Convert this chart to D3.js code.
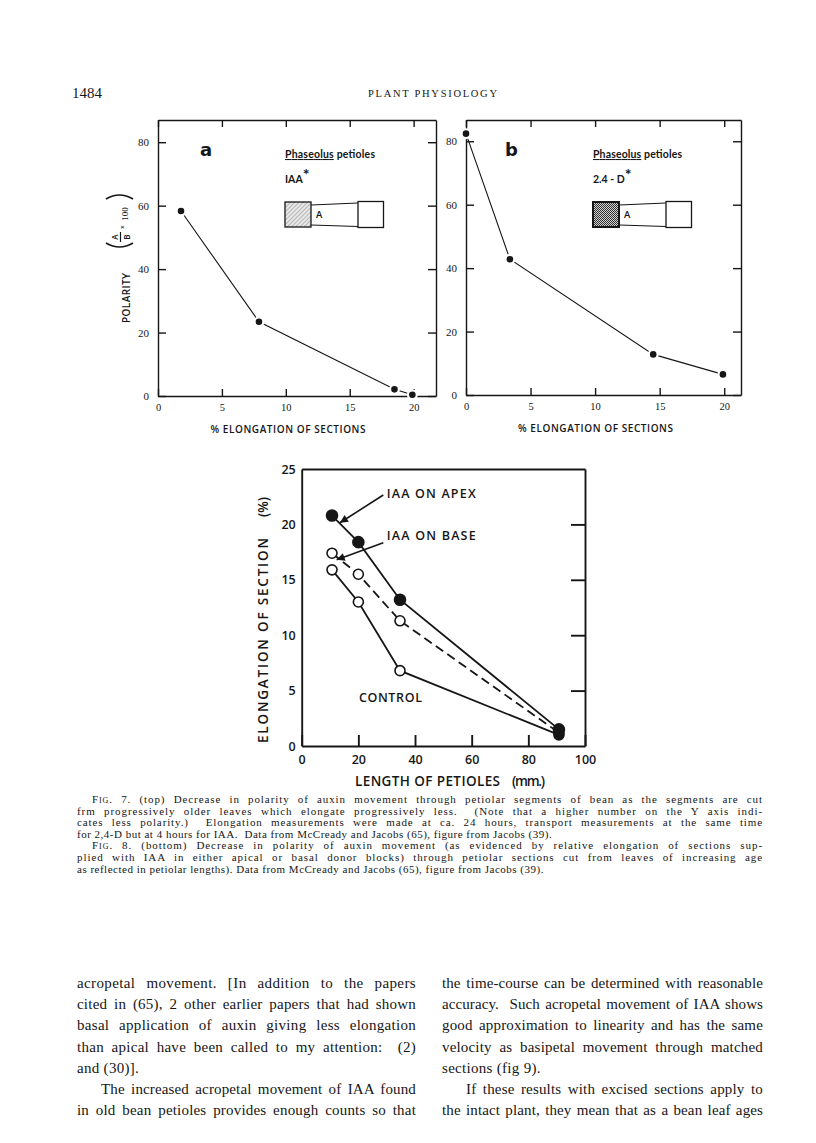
<!DOCTYPE html>
<html>
<head>
<meta charset="utf-8">
<script src="https://cdn.jsdelivr.net/npm/d3@7"></script>
<style>
  body { margin: 0; background: #fff; }
  svg { display: block; }
</style>
</head>
<body>
<div id="page"></div>
<script>
// ---- values ----
const elongTicks = [0, 5, 10, 15, 20];
const polarityTicks = [0, 20, 40, 60, 80];

// Fig 7a  (IAA)
const iaaElongation = [1.8, 7.9, 18.5, 19.9];
const iaaPolarity = [58.3, 23.4, 2.1, 0.4];

// Fig 7b  (2,4-D)
const dElongation = [0, 3.4, 14.5, 19.9];
const dPolarity = [82.4, 42.8, 12.8, 6.5];

// Fig 8
const petioleLength = [10.7, 20, 34.7, 90.8];
const apexElong = [20.8, 18.4, 13.2, 1.5];
const baseElong = [17.4, 15.5, 11.3, 1.2];
const controlElong = [15.9, 13.0, 6.8, 1.0];
const lengthTicks = [0, 20, 40, 60, 80, 100];
const sectionTicks = [0, 5, 10, 15, 20, 25];

const captionLines = [
  ["Fig. 7.", " (top) Decrease in polarity of auxin movement through petiolar segments of bean as the segments are cut"],
  ["", "frm progressively older leaves which elongate progressively less.  (Note that a higher number on the Y axis indi-"],
  ["", "cates less polarity.)  Elongation measurements were made at ca. 24 hours, transport measurements at the same time"],
  ["", "for 2,4-D but at 4 hours for IAA.  Data from McCready and Jacobs (65), figure from Jacobs (39)."],
  ["Fig. 8.", " (bottom) Decrease in polarity of auxin movement (as evidenced by relative elongation of sections sup-"],
  ["", "plied with IAA in either apical or basal donor blocks) through petiolar sections cut from leaves of increasing age"],
  ["", "as reflected in petiolar lengths). Data from McCready and Jacobs (65), figure from Jacobs (39)."]
];
const leftColumn = [
  "acropetal movement. [In addition to the papers",
  "cited in (65), 2 other earlier papers that had shown",
  "basal application of auxin giving less elongation",
  "than apical have been called to my attention:  (2)",
  "and (30)].",
  "The increased acropetal movement of IAA found",
  "in old bean petioles provides enough counts so that"
];
const rightColumn = [
  "the time-course can be determined with reasonable",
  "accuracy.  Such acropetal movement of IAA shows",
  "good approximation to linearity and has the same",
  "velocity as basipetal movement through matched",
  "sections (fig 9).",
  "If these results with excised sections apply to",
  "the intact plant, they mean that as a bean leaf ages"
];

const ink = "#161616";
const serif = "'Liberation Serif', 'DejaVu Serif', serif";
const sans = "'Open Sans', 'DejaVu Sans', sans-serif";

const svg = d3.select("#page").append("svg")
  .attr("width", 816)
  .attr("height", 1143);

// patterns for the donor blocks
const defs = svg.append("defs");
const hatch = defs.append("pattern").attr("id", "hatch")
  .attr("patternUnits", "userSpaceOnUse").attr("width", 3).attr("height", 3)
  .attr("patternTransform", "rotate(45)");
hatch.append("rect").attr("width", 3).attr("height", 3).attr("fill", "#e8e8e8");
hatch.append("line").attr("x1", 0).attr("y1", 0).attr("x2", 0).attr("y2", 3)
  .attr("stroke", "#777").attr("stroke-width", 0.9);
const stipple = defs.append("pattern").attr("id", "stipple")
  .attr("patternUnits", "userSpaceOnUse").attr("width", 2).attr("height", 2);
stipple.append("rect").attr("width", 2).attr("height", 2).attr("fill", "#d0d0d0");
stipple.append("rect").attr("width", 1).attr("height", 1).attr("fill", "#333");
stipple.append("rect").attr("x", 1).attr("y", 1).attr("width", 1).attr("height", 1).attr("fill", "#333");
defs.append("marker").attr("id", "arrow")
  .attr("markerUnits", "userSpaceOnUse")
  .attr("viewBox", "0 0 10 10").attr("refX", 10).attr("refY", 5)
  .attr("markerWidth", 11).attr("markerHeight", 8).attr("orient", "auto")
  .append("path").attr("d", "M0,0 L10,5 L0,10 Z").attr("fill", ink);

// ---- running header ----
svg.append("text").attr("x", 72).attr("y", 98).text("1484")
  .attr("font-family", serif).attr("font-size", 15).attr("fill", ink);
svg.append("text").attr("x", 368).attr("y", 97).text("PLANT PHYSIOLOGY")
  .attr("font-family", serif).attr("font-size", 10.5).attr("fill", ink)
  .attr("textLength", 129).attr("lengthAdjust", "spacing");

// ---- Fig 7 panels ----
function polarityPanel(p) {
  const x = d3.scaleLinear().domain([0, p.xMax]).range([p.left, p.right]);
  const y = d3.scaleLinear().domain([0, p.yMax]).range([p.bottom, p.top]);
  const g = svg.append("g");

  g.append("g").attr("transform", `translate(0,${p.bottom})`)
    .call(d3.axisBottom(x).tickValues(elongTicks).tickSize(-7).tickSizeOuter(0).tickPadding(8));
  g.append("g").attr("transform", `translate(0,${p.top})`)
    .call(d3.axisTop(x).tickValues(elongTicks).tickSize(-7).tickSizeOuter(0).tickFormat(""));
  const yl = g.append("g").attr("transform", `translate(${p.left},0)`)
    .call(d3.axisLeft(y).tickValues(polarityTicks).tickSize(-8).tickSizeOuter(0).tickPadding(9));
  g.append("g").attr("transform", `translate(${p.right},0)`)
    .call(d3.axisRight(y).tickValues(polarityTicks).tickSize(-8).tickSizeOuter(0).tickFormat(""));

  g.selectAll(".domain, .tick line").attr("stroke", ink).attr("stroke-width", 1.4);
  g.selectAll(".tick text").attr("fill", ink).attr("font-family", serif).attr("font-size", 10.5);
  yl.selectAll(".tick text").attr("font-size", 11);

  const line = d3.line().x(d => x(d[0])).y(d => y(d[1]));
  const pts = p.xs.map((v, i) => [v, p.ys[i]]);
  g.append("path").datum(pts).attr("d", line)
    .attr("fill", "none").attr("stroke", ink).attr("stroke-width", 1.1);
  g.selectAll("circle.pt").data(pts).join("circle")
    .attr("cx", d => x(d[0])).attr("cy", d => y(d[1])).attr("r", 4.4)
    .attr("fill", ink).attr("stroke", "#fff").attr("stroke-width", 2.2);

  g.append("text").attr("x", (p.left + p.right) / 2 + p.titleShift)
    .attr("y", p.bottom + 37).attr("text-anchor", "middle")
    .text("% ELONGATION OF SECTIONS")
    .attr("font-family", sans).attr("font-weight", 600).attr("font-size", 10)
    .attr("textLength", 155).attr("lengthAdjust", "spacing").attr("fill", ink);

  // panel letter
  g.append("text").attr("x", p.left + p.letterDx).attr("y", p.top + 36).text(p.letter)
    .attr("font-family", "'DejaVu Sans', sans-serif").attr("font-weight", 700)
    .attr("font-size", 18).attr("fill", ink);

  // legend text
  const lx = p.left + p.legendDx;
  const leg = g.append("text").attr("x", lx).attr("y", p.top + 38)
    .attr("font-family", "Lato, sans-serif").attr("font-weight", 700).attr("font-size", 10.5)
    .attr("fill", ink).attr("textLength", p.legendWidth).attr("lengthAdjust", "spacing");
  leg.append("tspan").text("Phaseolus").attr("text-decoration", "underline");
  leg.append("tspan").text("  petioles");
  const sub = g.append("text").attr("x", lx).attr("y", p.top + 63)
    .attr("font-family", "Lato, sans-serif").attr("font-weight", 700).attr("font-size", 10.5).attr("fill", ink);
  sub.append("tspan").text(p.compound);
  sub.append("tspan").text("*").attr("font-size", 16).attr("dy", -3);

  // donor block / section / receiver block sketch
  const bx = lx, by = p.top + 82;
  g.append("rect").attr("x", bx).attr("y", by).attr("width", 26).attr("height", 25)
    .attr("fill", p.blockFill).attr("stroke", ink).attr("stroke-width", p.blockStroke);
  g.append("path")
    .attr("d", `M${bx + 26},${by + 3} L${bx + 73},${by + 1} M${bx + 26},${by + 23} L${bx + 73},${by + 24.5}`)
    .attr("stroke", ink).attr("stroke-width", 1.2);
  g.append("rect").attr("x", bx + 73).attr("y", by - 0.5).attr("width", 25.5).attr("height", 26)
    .attr("fill", "#fff").attr("stroke", ink).attr("stroke-width", 1.3);
  g.append("text").attr("x", bx + 31).attr("y", by + 15.5).text("A")
    .attr("font-family", "Lato, sans-serif").attr("font-weight", 700).attr("font-size", 9).attr("fill", ink);
  return g;
}

polarityPanel({
  left: 158, right: 436, top: 120, bottom: 396, xMax: 21.75, yMax: 87,
  xs: iaaElongation, ys: iaaPolarity, letter: "a", letterDx: 42, legendDx: 127, legendWidth: 90,
  compound: "IAA", blockFill: "url(#hatch)", blockStroke: 1.3, titleShift: -9
});
polarityPanel({
  left: 466, right: 741, top: 120, bottom: 395, xMax: 21.3, yMax: 86.7,
  xs: dElongation, ys: dPolarity, letter: "b", letterDx: 39, legendDx: 127, legendWidth: 89,
  compound: "2.4 - D", blockFill: "url(#stipple)", blockStroke: 2, titleShift: -8
});

// y title of panel a: POLARITY (A/B x 100)
const yt = svg.append("g").attr("transform", "translate(126,260) rotate(-90)")
  .attr("fill", ink).attr("font-family", sans).attr("font-weight", 600);
yt.append("text").attr("x", -38).attr("y", 4).attr("text-anchor", "middle")
  .attr("font-size", 10).attr("textLength", 50).attr("lengthAdjust", "spacing").text("POLARITY");
yt.append("path").attr("d", "M17,-20 Q9,-6.5 17,7").attr("fill", "none").attr("stroke", ink).attr("stroke-width", 1.7);
yt.append("path").attr("d", "M61,-20 Q69,-6.5 61,7").attr("fill", "none").attr("stroke", ink).attr("stroke-width", 1.7);
yt.append("text").attr("x", 23).attr("y", -8).attr("text-anchor", "middle").attr("font-size", 8).text("A");
yt.append("line").attr("x1", 18).attr("x2", 28).attr("y1", -5.5).attr("y2", -5.5).attr("stroke", ink).attr("stroke-width", 1.2);
yt.append("text").attr("x", 23).attr("y", 3.5).attr("text-anchor", "middle").attr("font-size", 8).text("B");
yt.append("text").attr("x", 33).attr("y", -2).attr("text-anchor", "middle").attr("font-size", 6).text("x");
yt.append("text").attr("x", 46).attr("y", 2).attr("text-anchor", "middle").attr("font-size", 9)
  .attr("font-family", serif).attr("font-weight", 400).text("100");

// ---- Fig 8 ----
const f8 = { left: 301.7, right: 585, top: 469, bottom: 746 };
const x8 = d3.scaleLinear().domain([0, 100]).range([f8.left, f8.right]);
const y8 = d3.scaleLinear().domain([0, 25]).range([f8.bottom, f8.top]);
const g8 = svg.append("g");

g8.append("g").attr("transform", `translate(0,${f8.bottom})`)
  .call(d3.axisBottom(x8).tickValues(lengthTicks).tickSize(-11).tickSizeOuter(0).tickPadding(9));
g8.append("g").attr("transform", `translate(0,${f8.top})`)
  .call(d3.axisTop(x8).tickValues([]).tickSizeOuter(0));
g8.append("g").attr("transform", `translate(${f8.left},0)`)
  .call(d3.axisLeft(y8).tickValues(sectionTicks).tickSize(0).tickSizeOuter(0).tickPadding(6));
g8.append("g").attr("transform", `translate(${f8.right},0)`)
  .call(d3.axisRight(y8).tickValues(sectionTicks.slice(1, 5)).tickSize(-14).tickSizeOuter(0).tickFormat(""));
g8.selectAll(".domain, .tick line").attr("stroke", ink).attr("stroke-width", 1.9);
g8.selectAll(".tick text").attr("fill", ink).attr("font-family", sans)
  .attr("font-weight", 600).attr("font-size", 12.5);

const line8 = d3.line().x(d => x8(d[0])).y(d => y8(d[1]));
const series8 = [
  { name: "control", ys: controlElong, dash: null, filled: false },
  { name: "base", ys: baseElong, dash: "9,5", filled: false },
  { name: "apex", ys: apexElong, dash: null, filled: true }
];
series8.forEach(s => {
  const pts = petioleLength.map((v, i) => [v, s.ys[i]]);
  g8.append("path").datum(pts).attr("d", line8)
    .attr("fill", "none").attr("stroke", ink).attr("stroke-width", 1.8)
    .attr("stroke-dasharray", s.dash);
});
series8.forEach(s => {
  const pts = petioleLength.map((v, i) => [v, s.ys[i]]);
  g8.selectAll(null).data(pts).join("circle")
    .attr("cx", d => x8(d[0])).attr("cy", d => y8(d[1]))
    // the overlapping end points at the longest petioles are inked solid in the original
    .attr("r", s.filled ? 5.5 : 5)
    .attr("fill", (d, i) => (s.filled || i === pts.length - 1) ? ink : "#fff")
    .attr("stroke", ink).attr("stroke-width", 1.6);
});

// arrows and labels
const notes = [
  { label: "IAA ON APEX", at: [30, 22.4], from: [28.8, 22.65], to: [13.5, 20.15] },
  { label: "IAA ON BASE", at: [30, 18.55], from: [28.8, 18.35], to: [12.35, 16.8] }
];
notes.forEach(n => {
  g8.append("line")
    .attr("x1", x8(n.from[0])).attr("y1", y8(n.from[1]))
    .attr("x2", x8(n.to[0])).attr("y2", y8(n.to[1]))
    .attr("stroke", ink).attr("stroke-width", 1.6).attr("marker-end", "url(#arrow)");
  g8.append("text").attr("x", x8(n.at[0])).attr("y", y8(n.at[1])).text(n.label)
    .attr("font-family", sans).attr("font-weight", 600).attr("font-size", 12.5)
    .attr("textLength", 89).attr("lengthAdjust", "spacing").attr("fill", ink);
});
g8.append("text").attr("x", x8(20.2)).attr("y", y8(3.97)).text("CONTROL")
  .attr("font-family", sans).attr("font-weight", 600).attr("font-size", 12.5)
  .attr("textLength", 63).attr("lengthAdjust", "spacing").attr("fill", ink);

// axis titles
g8.append("text").attr("transform", "translate(268,743) rotate(-90)")
  .text("ELONGATION OF SECTION").attr("font-family", sans).attr("font-weight", 600)
  .attr("font-size", 13.5).attr("textLength", 205).attr("lengthAdjust", "spacing").attr("fill", ink);
g8.append("text").attr("transform", "translate(268,517) rotate(-90)")
  .text("(%)").attr("font-family", sans).attr("font-weight", 600)
  .attr("font-size", 13.5).attr("textLength", 20).attr("lengthAdjust", "spacing").attr("fill", ink);
g8.append("text").attr("x", 355).attr("y", 786).text("LENGTH OF PETIOLES")
  .attr("font-family", sans).attr("font-weight", 600).attr("font-size", 13.5)
  .attr("textLength", 145).attr("lengthAdjust", "spacing").attr("fill", ink);
g8.append("text").attr("x", 512).attr("y", 786).text("(mm.)")
  .attr("font-family", sans).attr("font-weight", 600).attr("font-size", 13.5)
  .attr("textLength", 33).attr("lengthAdjust", "spacing").attr("fill", ink);

// ---- caption and body text, justified: extra room shared by letters and word spaces ----
function textLine(parent, parts, x, y, width, size, letterShare, baseTrack) {
  const t = parent.append("text").attr("x", x).attr("y", y)
    .attr("font-family", serif).attr("font-size", size).attr("fill", ink)
    .attr("xml:space", "preserve");
  parts.forEach(([str, caps]) => {
    if (str) t.append("tspan").text(str).style("font-variant", caps ? "small-caps" : null);
  });
  const full = parts.map(p => p[0]).join("");
  if (width) {
    const spaces = (full.match(/ /g) || []).length;
    const natural = t.node().getComputedTextLength();
    const extra = width - natural;
    const track = extra * letterShare / full.length;
    t.attr("letter-spacing", track);
    const after = t.node().getComputedTextLength();
    if (spaces) t.attr("word-spacing", (width - after) / spaces);
  } else if (baseTrack) {
    t.attr("letter-spacing", baseTrack);
  }
  return t;
}

const cap = svg.append("g");
const capLeft = 77, capRight = 763, capIndent = 15, capTop = 803, capStep = 11.6;
captionLines.forEach((ln, i) => {
  const indent = ln[0] ? capIndent : 0;
  const last = i === 3 || i === 6;
  textLine(cap, [[ln[0], true], [ln[1], false]], capLeft + indent, capTop + i * capStep,
    last ? 0 : capRight - capLeft - indent, 11, 0.55, 0.5);
});

const body = svg.append("g");
const bodyTop = 988, bodyStep = 21.2, bodyIndent = 24;
[[leftColumn, 77, 416], [rightColumn, 442, 763]].forEach(([lines, x0, x1]) => {
  lines.forEach((s, i) => {
    const indent = i === 5 ? bodyIndent : 0;
    const last = i === 4;
    textLine(body, [[s, false]], x0 + indent, bodyTop + i * bodyStep,
      last ? 0 : x1 - x0 - indent, 15, 0.3, 0.3);
  });
});
</script>
</body>
</html>
